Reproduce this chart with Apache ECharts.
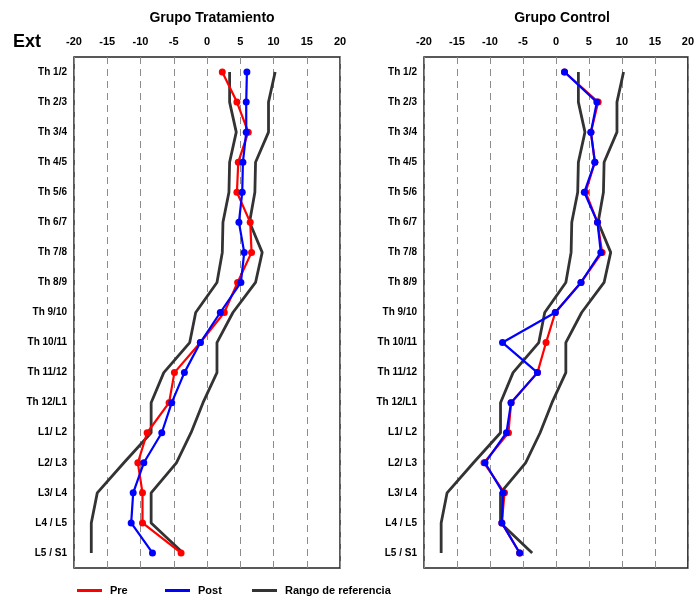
<!DOCTYPE html>
<html>
<head>
<meta charset="utf-8">
<script src="https://cdn.jsdelivr.net/npm/echarts@6/dist/echarts.min.js"></script>
<style>
  html, body { margin: 0; padding: 0; background: #fff; }
  #chart { width: 697px; height: 603px; }
</style>
</head>
<body>
<div id="chart"></div>
<script>
// Spinal segments, top to bottom
const segments = ['Th 1/2', 'Th 2/3', 'Th 3/4', 'Th 4/5', 'Th 5/6', 'Th 6/7', 'Th 7/8', 'Th 8/9',
  'Th 9/10', 'Th 10/11', 'Th 11/12', 'Th 12/L1', 'L1/ L2', 'L2/ L3', 'L3/ L4', 'L4 / L5', 'L5 / S1'];

// Reference range (same for both groups)
const refLower = [3.4, 3.4, 4.4, 3.4, 3.3, 2.4, 2.3, 1.5, -1.7, -2.6, -6.5, -8.4, -8.4, -12.5, -16.5, -17.4, -17.4];
const refUpper = [10.25, 9.25, 9.25, 7.3, 7.2, 6.4, 8.3, 7.3, 3.9, 1.5, 1.5, -0.6, -2.4, -4.6, -8.4, -8.4, -3.6];

// Treatment group
const treatPre  = [2.3, 4.5, 6.2, 4.7, 4.5, 6.5, 6.7, 4.6, 2.6, -1.0, -4.9, -5.7, -9.0, -10.4, -9.7, -9.7, -3.9];
const treatPost = [6.0, 5.9, 5.9, 5.4, 5.3, 4.8, 5.6, 5.1, 2.0, -1.0, -3.4, -5.3, -6.8, -9.5, -11.1, -11.4, -8.2];

// Control group
const ctrlPre  = [1.3, 6.4, 5.3, 5.9, 4.5, 6.3, 7.0, 3.8, -0.1, -1.5, -2.8, -6.8, -7.2, -10.9, -7.8, -8.2, -5.5];
const ctrlPost = [1.3, 6.2, 5.3, 5.9, 4.3, 6.3, 6.8, 3.8, -0.1, -8.1, -2.8, -6.8, -7.5, -10.75, -8.0, -8.2, -5.5];

const xTicks = { min: -20, max: 20, interval: 5 };
const panelTitles = ['Grupo Tratamiento', 'Grupo Control'];

const FONT = '"Liberation Sans", Arial, sans-serif';
const RED = '#ff0000', BLUE = '#0000ff', DARK = '#333333';

const chart = echarts.init(document.getElementById('chart'), null, { renderer: 'canvas' });

const gridLefts = [74, 424];
const grids = gridLefts.map(l => ({
  left: l, top: 57, width: 266, height: 511,
  show: true, borderColor: '#222', borderWidth: 1.5, backgroundColor: 'transparent'
}));

const xAxes = [0, 1].map(i => ({
  type: 'value', gridIndex: i, position: 'top',
  min: xTicks.min, max: xTicks.max, interval: xTicks.interval,
  axisLine: { show: false }, axisTick: { show: false },
  axisLabel: { fontFamily: FONT, fontWeight: 'bold', fontSize: 11, color: '#000', margin: 10 },
  splitLine: { show: true, lineStyle: { color: '#8c8c8c', type: [7, 5], width: 1 } }
}));

const yAxes = [0, 1].map(i => ({
  type: 'category', gridIndex: i, data: segments, inverse: true,
  axisLine: { show: false }, axisTick: { show: false },
  axisLabel: { fontFamily: FONT, fontWeight: 'bold', fontSize: 10, color: '#000', margin: 7 },
  splitLine: { show: false }
}));

function refSeries(i, data) {
  return {
    name: 'Rango de referencia', type: 'line', xAxisIndex: i, yAxisIndex: i,
    data: data.map((v, k) => [v, segments[k]]),
    showSymbol: false, symbol: 'none',
    lineStyle: { color: DARK, width: 2.8 }, itemStyle: { color: DARK },
    z: 2, silent: true
  };
}
function measSeries(i, name, data, color, z) {
  return {
    name, type: 'line', xAxisIndex: i, yAxisIndex: i,
    data: data.map((v, k) => [v, segments[k]]),
    symbol: 'circle', symbolSize: 7,
    lineStyle: { color, width: 2.2 }, itemStyle: { color },
    z
  };
}

const series = [];
[[treatPre, treatPost], [ctrlPre, ctrlPost]].forEach(([pre, post], i) => {
  series.push(refSeries(i, refLower));
  series.push(refSeries(i, refUpper));
  series.push(measSeries(i, 'Pre', pre, RED, 3));
  series.push(measSeries(i, 'Post', post, BLUE, 4));
});

const legendBase = {
  orient: 'horizontal', top: 585, padding: 0, itemWidth: 25, itemHeight: 3, icon: 'rect',
  textStyle: { fontFamily: FONT, fontWeight: 'bold', fontSize: 11, color: '#000', padding: [0, 0, 0, 3] },
  selectedMode: false
};

chart.setOption({
  animation: false,
  backgroundColor: '#fff',
  title: [
    { text: panelTitles[0], left: 207, top: 6, textAlign: 'center',
      textStyle: { fontFamily: FONT, fontWeight: 'bold', fontSize: 14, color: '#000' } },
    { text: panelTitles[1], left: 557, top: 6, textAlign: 'center',
      textStyle: { fontFamily: FONT, fontWeight: 'bold', fontSize: 14, color: '#000' } },
    { text: 'Ext', left: 8, top: 28,
      textStyle: { fontFamily: FONT, fontWeight: 'bold', fontSize: 18, color: '#000' } }
  ],
  grid: grids,
  xAxis: xAxes,
  yAxis: yAxes,
  legend: [
    Object.assign({}, legendBase, { left: 77, data: ['Pre'] }),
    Object.assign({}, legendBase, { left: 165, data: ['Post'] }),
    Object.assign({}, legendBase, { left: 252, data: ['Rango de referencia'] })
  ],
  series
});
</script>
</body>
</html>
